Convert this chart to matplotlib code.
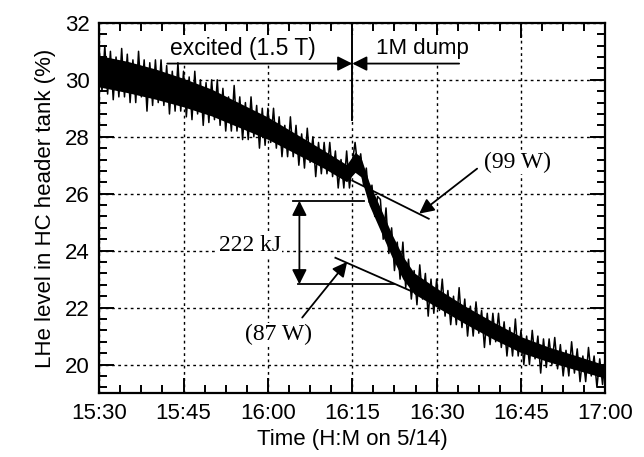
import numpy as np
import matplotlib
matplotlib.use("Agg")
import matplotlib.pyplot as plt
from matplotlib.ticker import MultipleLocator

plt.rcParams['font.family'] = ['Liberation Sans', 'DejaVu Sans']

# recorder samples every 30 s, minutes after 15:30
minutes = np.arange(0, 90.5, 0.5)
level = [
    31.1, 29.6, 31.2, 29.5, 31.0, 29.3, 30.8, 29.4, 31.1, 29.4,
    30.9, 29.2, 30.7, 29.2, 31.0, 29.4, 30.7, 28.9, 30.6, 29.1,
    30.7, 29.2, 30.7, 29.1, 30.5, 28.8, 30.3, 28.9, 30.6, 28.9,
    30.3, 28.7, 30.1, 28.6, 30.3, 28.8, 30.0, 28.4, 29.9, 28.5,
    30.0, 28.6, 30.0, 28.4, 29.7, 28.2, 29.4, 28.2, 29.8, 28.2,
    29.4, 27.9, 29.2, 27.9, 29.4, 28.0, 29.1, 27.6, 29.0, 27.7,
    29.0, 27.8, 29.0, 27.6, 28.7, 27.3, 28.4, 27.3, 28.7, 27.3,
    28.4, 27.0, 28.1, 26.9, 28.3, 27.1, 28.0, 26.6, 27.8, 26.7,
    27.8, 26.7, 27.8, 26.6, 27.5, 26.2, 27.2, 26.2, 27.5, 26.2,
    27.1, 27.8, 26.9, 27.4, 26.3, 26.9, 25.7, 26.3, 25.2, 25.9,
    25.8, 24.4, 25.5, 23.9, 24.8, 23.3, 24.3, 23.0, 24.3, 22.7,
    23.7, 22.3, 23.3, 22.1, 23.5, 22.3, 23.2, 21.7, 23.0, 21.8,
    23.0, 21.9, 23.0, 21.7, 22.6, 21.4, 22.4, 21.4, 22.7, 21.3,
    22.3, 21.0, 22.05, 21.0, 22.2, 21.1, 21.9, 20.6, 21.8, 20.7,
    21.8, 20.8, 21.8, 20.6, 21.5, 20.3, 21.3, 20.3, 21.6, 20.3,
    21.2, 20.0, 21.0, 20.0, 21.2, 20.2, 21.0, 19.7, 20.9, 19.9,
    20.9, 20.0, 20.95, 19.85, 20.7, 19.6, 20.5, 19.6, 20.8, 19.7,
    20.55, 19.4, 20.3, 19.4, 20.6, 19.6, 20.3, 19.2, 20.2, 19.3,
    20.3,
]

# solid part of the noise band
core_t = [0, 5, 10, 15, 20, 25, 30, 35, 40, 44, 45.5, 46.5, 48, 50, 52,
          54, 56, 58, 60, 65, 70, 75, 80, 85, 90]
core_hi = [30.85, 30.65, 30.38, 30.05, 29.67, 29.18, 28.69, 28.1, 27.51, 27.02,
           27.45, 27.3, 26.4, 25.5, 24.6, 23.8, 23.22, 22.95, 22.68, 22.06,
           21.5, 20.98, 20.61, 20.3, 19.98]
core_lo = [29.75, 29.55, 29.32, 29.05, 28.73, 28.32, 27.91, 27.4, 26.89, 26.42,
           26.75, 26.6, 25.6, 24.7, 23.8, 23.0, 22.48, 22.25, 22.02, 21.44,
           20.9, 20.42, 20.09, 19.8, 19.52]

tick_pos = [0, 15, 30, 45, 60, 75, 90]
tick_labels = ["15:30", "15:45", "16:00", "16:15", "16:30", "16:45", "17:00"]

# tangent lines (start, end)
fit_99 = ([45.0, 58.6], [26.46, 25.12])
fit_87 = ([42.0, 55.7], [23.75, 22.56])
dump_time = 45.0
heat_top, heat_bot = 25.75, 22.82

fig = plt.figure(figsize=(6.44, 4.57), dpi=100)
ax = fig.add_axes([0.154, 0.140, 0.786, 0.810])

ax.fill_between(core_t, core_lo, core_hi, color='k', lw=0, zorder=3)
ax.plot(minutes, level, color='k', lw=1.1, zorder=3)

ax.set_xlim(0, 90)
ax.set_ylim(19, 32)
ax.set_xticks(tick_pos)
ax.set_xticklabels(tick_labels)
ax.xaxis.set_minor_locator(MultipleLocator(3.75))
ax.yaxis.set_major_locator(MultipleLocator(2))
ax.yaxis.set_minor_locator(MultipleLocator(0.4))
ax.tick_params(which='both', direction='in', top=True, right=True,
               width=1.4, colors='k')
ax.tick_params(which='major', length=11, pad=7, labelsize=16)
ax.tick_params(which='minor', length=6)
for s in ax.spines.values():
    s.set_linewidth(1.6)
ax.grid(True, which='major', color='k', lw=1.0, linestyle=(0, (2, 2.5)))

ax.set_xlabel("Time (H:M on 5/14)", fontsize=16, labelpad=4)
ax.set_ylabel("LHe level in HC header tank (%)", fontsize=16, labelpad=6)

# excited / dump markers (blank out the grid behind the labels)
ax.axhspan(30.6, 31.58, xmin=12.1 / 90, xmax=64.0 / 90, color='white',
           lw=0, zorder=2)
ax.plot([dump_time, dump_time], [28.6, 32], color='k', lw=1.4, zorder=4)
head = dict(arrowstyle='-|>', color='k', lw=1.3, mutation_scale=22,
            shrinkA=0, shrinkB=0)
ax.annotate('', xy=(dump_time, 30.57), xytext=(12.1, 30.57), arrowprops=head)
ax.annotate('', xy=(dump_time, 30.57), xytext=(64.0, 30.57), arrowprops=head)
ax.text(25.6, 31.1, "excited (1.5 T)", fontsize=16.5, ha='center', va='center',
        zorder=5)
ax.text(57.5, 31.1, "1M dump", fontsize=16, ha='center', va='center', zorder=5)

# heat estimate
blank = dict(facecolor='white', edgecolor='none', pad=0.5)
ax.plot(*fit_99, color='k', lw=1.3, zorder=4)
ax.plot(*fit_87, color='k', lw=1.3, zorder=4)
ax.plot([34.5, 47.0], [heat_top, heat_top], color='k', lw=1.3, zorder=4)
ax.plot([35.3, 52.5], [heat_bot, heat_bot], color='k', lw=1.3, zorder=4)
ax.annotate('', xy=(35.6, heat_top), xytext=(35.6, heat_bot),
            arrowprops=dict(arrowstyle='<|-|>', color='k', lw=1.3,
                            mutation_scale=22, shrinkA=0, shrinkB=0))
ax.text(26.8, 24.18, "222 kJ", fontsize=17, family='Liberation Serif',
        ha='center', va='center', bbox=blank)

ax.annotate('', xy=(56.9, 25.3), xytext=(67.2, 26.88), arrowprops=head)
ax.text(74.4, 27.09, "(99 W)", fontsize=17, family='Liberation Serif',
        ha='center', va='center', bbox=blank)
ax.annotate('', xy=(44.1, 23.61), xytext=(36.1, 21.65), arrowprops=head)
ax.text(31.9, 21.06, "(87 W)", fontsize=17, family='Liberation Serif',
        ha='center', va='center', bbox=blank)

fig.savefig('out.png', dpi=100)
